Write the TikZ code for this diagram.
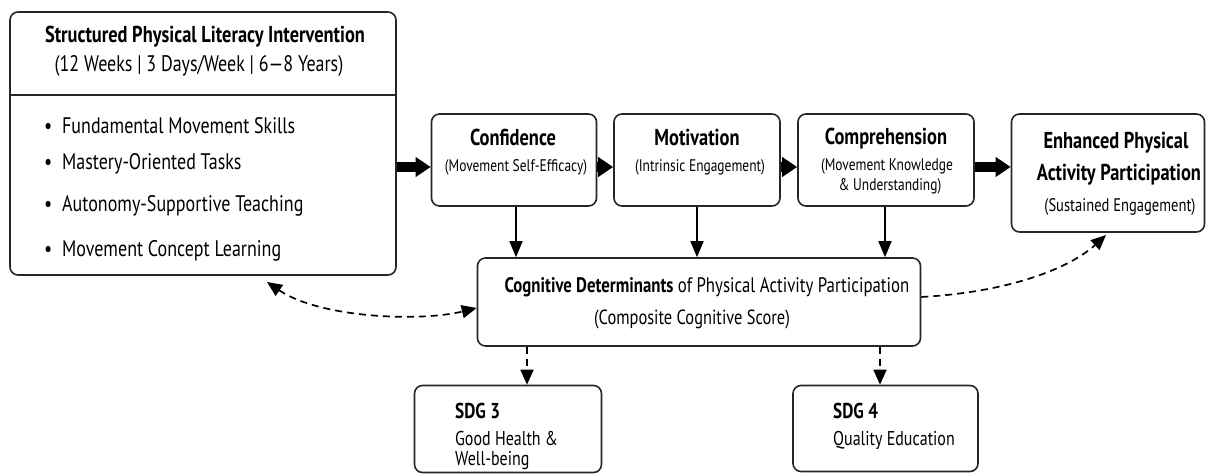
\documentclass[tikz,border=0pt]{standalone}
\usepackage{fontspec}
\setmainfont{PT Sans}[FakeStretch=0.80]
\usetikzlibrary{arrows.meta}
\begin{document}
\begin{tikzpicture}[x=1pt,y=-1pt,
  box/.style={draw=black!85,line width=1.6pt,rounded corners=8pt,inner sep=0pt},
  lbl/.style={inner sep=0pt,anchor=mid,font=\fontsize{22.5}{25}\selectfont},
  sub/.style={inner sep=0pt,anchor=mid,font=\fontsize{16.8}{19}\selectfont},
  ttl/.style={inner sep=0pt,anchor=mid,font=\fontsize{23}{26}\selectfont\bfseries},
  sdg/.style={inner sep=0pt,anchor=west,font=\fontsize{20}{23}\selectfont},
  thick arrow/.style={line width=9.5pt,-{Triangle[length=15pt,width=19pt]}},
  down arrow/.style={line width=1.7pt,-{Triangle[length=16pt,width=13pt]}},
  dash arrow/.style={line width=1.7pt,dash pattern=on 7pt off 5pt,-{Triangle[length=15pt,width=13pt]}},
]
\useasboundingbox (0,0) rectangle (1215,476);
% boxes
\node[box,minimum width=386pt,minimum height=263pt] (int) at (203,143.5) {};
\draw[line width=1.6pt,draw=black!85] (int.west |- 0,95) -- (int.east |- 0,95);
\node[box,minimum width=165pt,minimum height=92pt] (conf) at (514,160) {};
\node[box,minimum width=166pt,minimum height=92pt] (mot) at (697,160) {};
\node[box,minimum width=176pt,minimum height=92pt] (comp) at (886,160) {};
\node[box,minimum width=193pt,minimum height=118pt] (enh) at (1108,173) {};
\node[box,minimum width=443pt,minimum height=88pt] (cog) at (699,302) {};
\node[box,minimum width=187pt,minimum height=87pt] (sdg3) at (508,429) {};
\node[box,minimum width=185pt,minimum height=86pt] (sdg4) at (885.5,428.5) {};
% texts
\node[ttl] (t1) at (205,40) {Structured Physical Literacy Intervention};
\node[lbl] (t2) at (199,69) {(12 Weeks | 3 Days/Week | 6—8 Years)};
\foreach \yy/\tx [count=\i] in {126/Fundamental Movement Skills,164/Mastery-Oriented Tasks,206/Autonomy-Supportive Teaching,251/Movement Concept Learning}{
  \node[lbl,anchor=west] (b\i) at (44,\yy) {\makebox[18pt][l]{•}\tx};
}
\node[ttl] (ct) at (513,143) {Confidence};
\node[sub] (cs) at (516,169) {(Movement Self-Efficacy)};
\node[ttl] (mt) at (697,143) {Motivation};
\node[sub] (ms) at (700,169) {(Intrinsic Engagement)};
\node[ttl] (pt) at (886,142) {Comprehension};
\node[sub] (ps) at (887,168) {(Movement Knowledge};
\node[sub] (ps2) at (890,188) {\& Understanding)};
\node[ttl] (et) at (1116,146) {Enhanced Physical};
\node[ttl] (et2) at (1119,178) {Activity Participation};
\node[sub,font=\fontsize{18.2}{20}\selectfont] (es) at (1120,209) {(Sustained Engagement)};
\node[lbl,font=\fontsize{21}{24}\selectfont] (gt) at (707,290) {\textbf{Cognitive Determinants} of Physical Activity Participation};
\node[lbl,font=\fontsize{20.5}{24}\selectfont] (gs) at (692,322) {(Composite Cognitive Score)};
\node[sdg,font=\fontsize{21.5}{24}\selectfont\bfseries] (s3t) at (455,411) {SDG 3};
\node[sdg] (s3a) at (455,438) {Good Health \&};
\node[sdg] (s3b) at (455,461) {Well-being};
\node[sdg,font=\fontsize{21.5}{24}\selectfont\bfseries] (s4t) at (833,411) {SDG 4};
\node[sdg] (s4a) at (833,440) {Quality Education};
% connectors
\draw[thick arrow] (int.east |- 0,167) -- (conf.west |- 0,167);
\draw[thick arrow] (conf.east |- 0,167) -- (mot.west |- 0,167);
\draw[thick arrow] (mot.east |- 0,167) -- (comp.west |- 0,167);
\draw[thick arrow] (comp.east |- 0,167) -- (enh.west |- 0,167);
\draw[down arrow] (conf.south -| 516,0) -- (cog.north -| 516,0);
\draw[down arrow] (mot.south) -- (cog.north -| mot.south);
\draw[down arrow] (comp.south -| 885,0) -- (cog.north -| 885,0);
\draw[dash arrow] (cog.south -| 527,0) -- (sdg3.north -| 527,0);
\draw[dash arrow] (cog.south -| 880,0) -- (sdg4.north -| 880,0);
\coordinate (lb) at (267,282);
\coordinate (eb) at (1106,235);
\draw[dash arrow,{Triangle[length=15pt,width=13pt]}-{Triangle[length=15pt,width=13pt]}] (lb) .. controls (320,318) and (420,322) .. (cog.west |- 0,308);
\draw[dash arrow] (cog.east |- 0,297) .. controls (1010,292) and (1070,268) .. (eb);
\end{tikzpicture}
\end{document}
